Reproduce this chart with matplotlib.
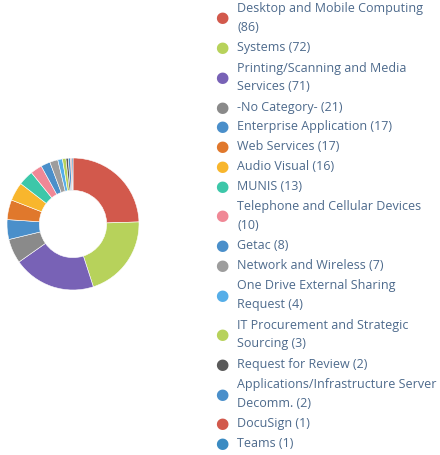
import matplotlib.pyplot as plt

# Kategori tiket dan jumlahnya
labels = ["Desktop and Mobile Computing\n(86)", "Systems (72)",
          "Printing/Scanning and Media\nServices (71)", "-No Category- (21)",
          "Enterprise Application (17)", "Web Services (17)", "Audio Visual (16)",
          "MUNIS (13)", "Telephone and Cellular Devices\n(10)", "Getac (8)",
          "Network and Wireless (7)", "One Drive External Sharing\nRequest (4)",
          "IT Procurement and Strategic\nSourcing (3)", "Request for Review (2)",
          "Applications/Infrastructure Server\nDecomm. (2)", "DocuSign (1)", "Teams (1)"]
values = [86, 72, 71, 21, 17, 17, 16, 13, 10, 8, 7, 4, 3, 2, 2, 1, 1]
colors = ["#d2594c", "#b7d25b", "#7862b6", "#8a8a8a", "#4a8fca", "#e0782c",
          "#f8b62d", "#3dc7a9", "#f08896", "#4a8fca", "#9d9d9d", "#56aee8",
          "#b7d25b", "#5a5a5a", "#4a8fca", "#d2594c", "#3b8bc2"]

W, H = 440, 455
fig = plt.figure(figsize=(W / 100, H / 100), dpi=100)

# Donat
cx, cy, r = 73, 224, 66
ax = fig.add_axes([(cx - r) / W, (H - cy - r) / H, 2 * r / W, 2 * r / H])
ax.pie(values, colors=colors, startangle=90, counterclock=False,
       wedgeprops=dict(width=0.49, edgecolor="white", linewidth=0.4))
ax.set_xlim(-1, 1)
ax.set_ylim(-1, 1)
ax.set_aspect("equal")
ax.axis("off")

# Legenda manual
y0, step = 8, 19.8
line = 0
for lab, col in zip(labels, colors):
    n = lab.count("\n") + 1
    ymid = y0 + (line + (n - 1) / 2) * step
    fig.text(222 / W, 1 - ymid / H, "\u25CF", color=col, fontsize=11,
             ha="center", va="center", family="DejaVu Sans")
    fig.text(237 / W, 1 - ymid / H, lab, color="#4d6a8c", fontsize=9,
             ha="left", va="center", family="Open Sans", linespacing=1.55)
    line += n

fig.savefig("out.png", dpi=100)
